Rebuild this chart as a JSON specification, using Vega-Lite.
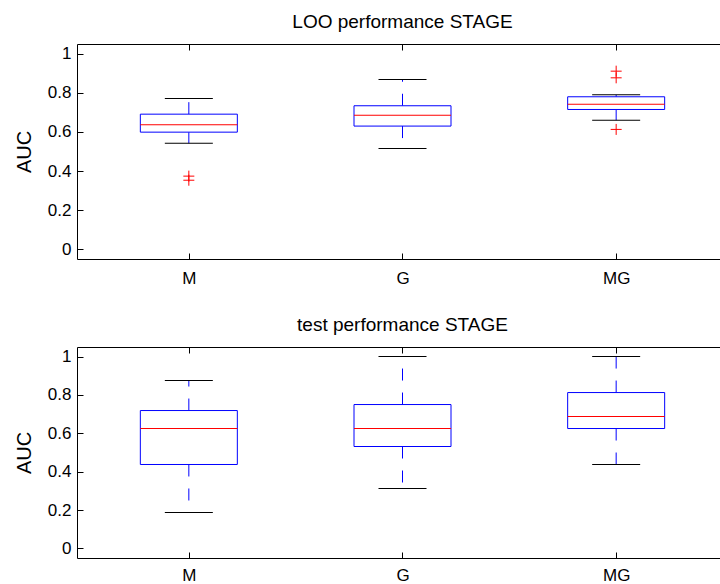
{
  "$schema": "https://vega.github.io/schema/vega-lite/v6.json",
  "padding": {"left": 14, "top": 12, "right": 0, "bottom": 0},
  "spacing": 29,
  "config": {
    "font": "Liberation Sans",
    "view": {"stroke": "transparent", "strokeWidth": 0, "strokeOpacity": 0},
    "axis": {"grid": false, "domain": true, "domainColor": "#000000", "domainWidth": 1, "labelColor": "#000000", "tickColor": "#000000", "titleColor": "#000000", "labelFontSize": 17, "titleFontSize": 20, "titleFontWeight": "normal", "labelFont": "Liberation Sans", "titleFont": "Liberation Sans"},
    "title": {"fontSize": 19, "fontWeight": "normal", "color": "#000000", "font": "Liberation Sans"}
  },
  "datasets": {
    "loo": [
      {"group": 1, "lower": 0.542, "q1": 0.599, "median": 0.637, "q3": 0.691, "upper": 0.771},
      {"group": 2, "lower": 0.515, "q1": 0.630, "median": 0.686, "q3": 0.734, "upper": 0.868},
      {"group": 3, "lower": 0.660, "q1": 0.715, "median": 0.742, "q3": 0.780, "upper": 0.790}
    ],
    "looOut": [
      {"group": 1, "value": 0.374},
      {"group": 1, "value": 0.353},
      {"group": 3, "value": 0.911},
      {"group": 3, "value": 0.877},
      {"group": 3, "value": 0.613}
    ],
    "test": [
      {"group": 1, "lower": 0.1875, "q1": 0.4375, "median": 0.625, "q3": 0.71875, "upper": 0.875},
      {"group": 2, "lower": 0.3125, "q1": 0.53125, "median": 0.625, "q3": 0.75, "upper": 1.0},
      {"group": 3, "lower": 0.4375, "q1": 0.625, "median": 0.6875, "q3": 0.8125, "upper": 1.0}
    ]
  },
  "vconcat": [
    {
      "title": {"text": "LOO performance STAGE", "offset": 12, "anchor": "middle"},
      "width": 651,
      "height": 215,
      "resolve": {"axis": {"x": "independent"}},
      "layer": [
        {
          "data": {"name": "loo"},
          "mark": {"type": "rule", "color": "#0000ff", "strokeWidth": 1, "strokeDash": [12, 12]},
          "encoding": {
            "x": {"field": "group", "type": "quantitative", "scale": {"domain": [0.5, 3.5], "nice": false, "zero": false},
                  "axis": {"orient": "bottom", "values": [1, 2, 3], "labelExpr": "datum.value == 1 ? 'M' : datum.value == 2 ? 'G' : 'MG'", "tickSize": -6, "labelPadding": 17, "title": null}},
            "y": {"field": "q3", "type": "quantitative", "scale": {"domain": [-0.05, 1.05], "nice": false, "zero": false},
                  "axis": {"values": [0, 0.2, 0.4, 0.6, 0.8, 1], "labelExpr": "format(datum.value, '~g')", "tickSize": -6, "labelPadding": 12, "title": "AUC", "titlePadding": 13}},
            "y2": {"field": "upper"}
          }
        },
        {
          "data": {"name": "loo"},
          "mark": {"type": "rule", "color": "#0000ff", "strokeWidth": 1, "strokeDash": [12, 12]},
          "encoding": {
            "x": {"field": "group", "type": "quantitative", "axis": {"orient": "top", "values": [1, 2, 3], "labels": false, "tickSize": -6, "title": null}},
            "y": {"field": "q1", "type": "quantitative"},
            "y2": {"field": "lower"}
          }
        },
        {
          "data": {"name": "loo"},
          "mark": {"type": "bar", "width": 97, "fill": "#ffffff", "stroke": "#0000ff", "strokeWidth": 1},
          "encoding": {
            "x": {"field": "group", "type": "quantitative", "axis": null},
            "y": {"field": "q1", "type": "quantitative"},
            "y2": {"field": "q3"}
          }
        },
        {
          "data": {"name": "loo"},
          "mark": {"type": "tick", "orient": "horizontal", "size": 97, "thickness": 1, "color": "#ff0000", "opacity": 1},
          "encoding": {
            "x": {"field": "group", "type": "quantitative", "axis": null},
            "y": {"field": "median", "type": "quantitative"}
          }
        },
        {
          "data": {"name": "loo"},
          "mark": {"type": "tick", "orient": "horizontal", "size": 48, "thickness": 1, "color": "#000000", "opacity": 1},
          "encoding": {
            "x": {"field": "group", "type": "quantitative", "axis": null},
            "y": {"field": "upper", "type": "quantitative"}
          }
        },
        {
          "data": {"name": "loo"},
          "mark": {"type": "tick", "orient": "horizontal", "size": 48, "thickness": 1, "color": "#000000", "opacity": 1},
          "encoding": {
            "x": {"field": "group", "type": "quantitative", "axis": null},
            "y": {"field": "lower", "type": "quantitative"}
          }
        },
        {
          "data": {"name": "looOut"},
          "mark": {"type": "point", "shape": "M-1,0L1,0M0,-1L0,1", "size": 121, "filled": false, "stroke": "#ff0000", "strokeWidth": 1, "opacity": 1},
          "encoding": {
            "x": {"field": "group", "type": "quantitative", "axis": null},
            "y": {"field": "value", "type": "quantitative"}
          }
        }
      ]
    },
    {
      "title": {"text": "test performance STAGE", "offset": 12, "anchor": "middle"},
      "width": 651,
      "height": 211,
      "resolve": {"axis": {"x": "independent"}},
      "layer": [
        {
          "data": {"name": "test"},
          "mark": {"type": "rule", "color": "#0000ff", "strokeWidth": 1, "strokeDash": [12, 12]},
          "encoding": {
            "x": {"field": "group", "type": "quantitative", "scale": {"domain": [0.5, 3.5], "nice": false, "zero": false},
                  "axis": {"orient": "bottom", "values": [1, 2, 3], "labelExpr": "datum.value == 1 ? 'M' : datum.value == 2 ? 'G' : 'MG'", "tickSize": -6, "labelPadding": 15, "title": null}},
            "y": {"field": "q3", "type": "quantitative", "scale": {"domain": [-0.05, 1.05], "nice": false, "zero": false},
                  "axis": {"values": [0, 0.2, 0.4, 0.6, 0.8, 1], "labelExpr": "format(datum.value, '~g')", "tickSize": -6, "labelPadding": 12, "title": "AUC", "titlePadding": 13}},
            "y2": {"field": "upper"}
          }
        },
        {
          "data": {"name": "test"},
          "mark": {"type": "rule", "color": "#0000ff", "strokeWidth": 1, "strokeDash": [12, 12]},
          "encoding": {
            "x": {"field": "group", "type": "quantitative", "axis": {"orient": "top", "values": [1, 2, 3], "labels": false, "tickSize": -6, "title": null}},
            "y": {"field": "q1", "type": "quantitative"},
            "y2": {"field": "lower"}
          }
        },
        {
          "data": {"name": "test"},
          "mark": {"type": "bar", "width": 97, "fill": "#ffffff", "stroke": "#0000ff", "strokeWidth": 1},
          "encoding": {
            "x": {"field": "group", "type": "quantitative", "axis": null},
            "y": {"field": "q1", "type": "quantitative"},
            "y2": {"field": "q3"}
          }
        },
        {
          "data": {"name": "test"},
          "mark": {"type": "tick", "orient": "horizontal", "size": 97, "thickness": 1, "color": "#ff0000", "opacity": 1},
          "encoding": {
            "x": {"field": "group", "type": "quantitative", "axis": null},
            "y": {"field": "median", "type": "quantitative"}
          }
        },
        {
          "data": {"name": "test"},
          "mark": {"type": "tick", "orient": "horizontal", "size": 48, "thickness": 1, "color": "#000000", "opacity": 1},
          "encoding": {
            "x": {"field": "group", "type": "quantitative", "axis": null},
            "y": {"field": "upper", "type": "quantitative"}
          }
        },
        {
          "data": {"name": "test"},
          "mark": {"type": "tick", "orient": "horizontal", "size": 48, "thickness": 1, "color": "#000000", "opacity": 1},
          "encoding": {
            "x": {"field": "group", "type": "quantitative", "axis": null},
            "y": {"field": "lower", "type": "quantitative"}
          }
        }
      ]
    }
  ]
}
